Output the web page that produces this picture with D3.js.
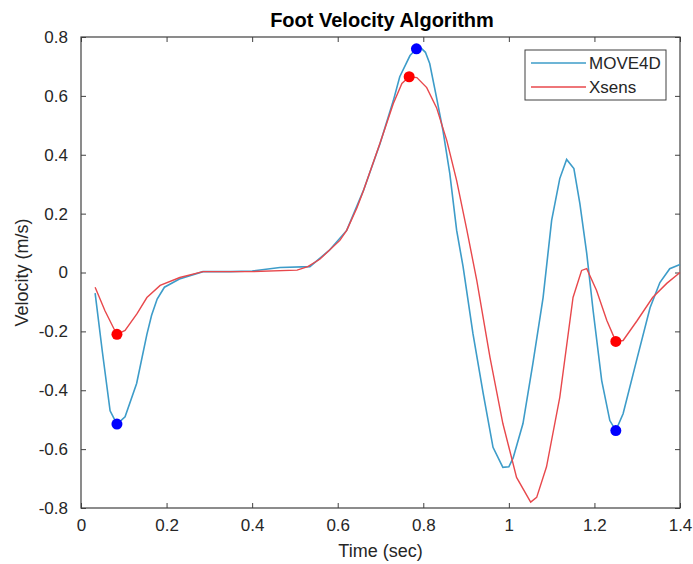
<!DOCTYPE html>
<html>
<head>
<meta charset="utf-8">
<script src="https://cdn.jsdelivr.net/npm/d3@7"></script>
<style>
  body { margin: 0; background: #fff; }
  text { font-family: "Liberation Sans", Arial, sans-serif; }
</style>
</head>
<body>
<div id="canvas"></div>
<script>
// MOVE4D series (time in sec, velocity in m/s)
var moveTime = [0.033, 0.05, 0.068, 0.084, 0.103, 0.13, 0.154, 0.165, 0.178, 0.195, 0.23, 0.285, 0.35, 0.40, 0.465, 0.535, 0.58, 0.621, 0.66, 0.699, 0.73, 0.745, 0.769, 0.784, 0.795, 0.805, 0.815, 0.831, 0.846, 0.862, 0.878, 0.893, 0.916, 0.94, 0.963, 0.986, 1.0, 1.01, 1.033, 1.056, 1.08, 1.10, 1.119, 1.135, 1.152, 1.166, 1.182, 1.197, 1.217, 1.236, 1.25, 1.267, 1.30, 1.33, 1.353, 1.376, 1.40];
var moveVel = [-0.07, -0.27, -0.47, -0.515, -0.49, -0.377, -0.21, -0.145, -0.09, -0.05, -0.022, 0.003, 0.003, 0.005, 0.017, 0.02, 0.075, 0.143, 0.278, 0.438, 0.584, 0.665, 0.737, 0.76, 0.762, 0.748, 0.71, 0.594, 0.482, 0.336, 0.143, 0.02, -0.207, -0.411, -0.594, -0.662, -0.66, -0.63, -0.513, -0.31, -0.085, 0.177, 0.319, 0.384, 0.353, 0.234, 0.065, -0.13, -0.367, -0.503, -0.537, -0.48, -0.29, -0.12, -0.034, 0.013, 0.027];

// Xsens series
var xsensTime = [0.033, 0.056, 0.079, 0.084, 0.103, 0.131, 0.154, 0.185, 0.231, 0.285, 0.35, 0.40, 0.505, 0.53, 0.558, 0.605, 0.621, 0.645, 0.66, 0.699, 0.73, 0.75, 0.767, 0.785, 0.808, 0.831, 0.855, 0.878, 0.902, 0.925, 0.956, 0.986, 1.018, 1.051, 1.065, 1.088, 1.119, 1.15, 1.17, 1.182, 1.205, 1.229, 1.25, 1.267, 1.30, 1.336, 1.369, 1.40];
var xsensVel = [-0.05, -0.13, -0.197, -0.21, -0.197, -0.14, -0.085, -0.044, -0.017, 0.003, 0.003, 0.003, 0.008, 0.02, 0.045, 0.109, 0.143, 0.22, 0.278, 0.44, 0.574, 0.642, 0.665, 0.662, 0.628, 0.56, 0.448, 0.312, 0.143, -0.027, -0.289, -0.513, -0.696, -0.78, -0.764, -0.66, -0.424, -0.085, 0.007, 0.013, -0.061, -0.163, -0.234, -0.231, -0.163, -0.085, -0.037, 0.0];

// detected events
var moveMarkTime = [0.084, 0.784, 1.25];
var moveMarkVel = [-0.515, 0.76, -0.537];
var xsensMarkTime = [0.084, 0.767, 1.25];
var xsensMarkVel = [-0.21, 0.665, -0.234];

var seriesNames = ["MOVE4D", "Xsens"];
var xTicks = [0, 0.2, 0.4, 0.6, 0.8, 1, 1.2, 1.4];
var yTicks = [-0.8, -0.6, -0.4, -0.2, 0, 0.2, 0.4, 0.6, 0.8];

const W = 693, H = 564;
const margin = {top: 37, right: 13, bottom: 56, left: 81};
const width = W - margin.left - margin.right;
const height = H - margin.top - margin.bottom;

const blue = "#3d9cc9";
const red = "#e8484c";
const axisCol = "#404040";

const svgRoot = d3.select("#canvas").append("svg")
    .attr("width", W)
    .attr("height", H);

const svg = svgRoot.append("g")
    .attr("transform", "translate(" + margin.left + "," + margin.top + ")");

const x = d3.scaleLinear().domain([0, 1.4]).range([0, width]);
const y = d3.scaleLinear().domain([-0.8, 0.8]).range([height, 0]);

// matlab style labels, plain hyphen for negatives
const fmt = function(d) { return String(+d.toFixed(1)); };

// axes, ticks pointing inward like matlab
function styleAxis(g) {
  g.select(".domain").remove();
  g.selectAll("line").attr("stroke", axisCol);
  g.selectAll("text").attr("fill", "#262626").style("font-size", "17px");
}

svg.append("g")
    .attr("transform", "translate(0," + height + ")")
    .call(d3.axisBottom(x).tickValues(xTicks).tickSizeInner(-5).tickPadding(11).tickFormat(fmt))
    .call(styleAxis);
svg.append("g")
    .call(d3.axisTop(x).tickValues(xTicks).tickSizeInner(-5).tickFormat(""))
    .call(styleAxis);
svg.append("g")
    .call(d3.axisLeft(y).tickValues(yTicks).tickSizeInner(-5).tickPadding(13).tickFormat(fmt))
    .call(styleAxis);
svg.append("g")
    .attr("transform", "translate(" + width + ",0)")
    .call(d3.axisRight(y).tickValues(yTicks).tickSizeInner(-5).tickFormat(""))
    .call(styleAxis);

svg.append("rect")
    .attr("width", width)
    .attr("height", height)
    .attr("fill", "none")
    .attr("stroke", axisCol)
    .attr("stroke-width", 1.2);

const line = d3.line()
    .x(function(d) { return x(d[0]); })
    .y(function(d) { return y(d[1]); });

svg.append("path")
    .datum(d3.zip(moveTime, moveVel))
    .attr("fill", "none")
    .attr("stroke", blue)
    .attr("stroke-width", 1.6)
    .attr("d", line);

svg.append("path")
    .datum(d3.zip(xsensTime, xsensVel))
    .attr("fill", "none")
    .attr("stroke", red)
    .attr("stroke-width", 1.4)
    .attr("d", line);

svg.append("g").selectAll("circle")
    .data(d3.zip(xsensMarkTime, xsensMarkVel))
    .enter().append("circle")
      .attr("cx", function(d) { return x(d[0]); })
      .attr("cy", function(d) { return y(d[1]); })
      .attr("r", 5.5)
      .attr("fill", "#ff0000");

svg.append("g").selectAll("circle")
    .data(d3.zip(moveMarkTime, moveMarkVel))
    .enter().append("circle")
      .attr("cx", function(d) { return x(d[0]); })
      .attr("cy", function(d) { return y(d[1]); })
      .attr("r", 5.5)
      .attr("fill", "#0000ff");

// legend
const leg = svgRoot.append("g").attr("transform", "translate(525,50)");
leg.append("rect")
    .attr("width", 141)
    .attr("height", 50)
    .attr("fill", "#fff")
    .attr("stroke", axisCol)
    .attr("stroke-width", 1);
[blue, red].forEach(function(c, i) {
  leg.append("line")
      .attr("x1", 6).attr("x2", 61)
      .attr("y1", 13 + i * 24).attr("y2", 13 + i * 24)
      .attr("stroke", c)
      .attr("stroke-width", 1.6);
  leg.append("text")
      .attr("x", 64)
      .attr("y", 13 + i * 24)
      .attr("dy", "0.35em")
      .attr("fill", "#262626")
      .style("font-size", "17px")
      .text(seriesNames[i]);
});

// titles
svgRoot.append("text")
    .attr("x", 382)
    .attr("y", 27)
    .attr("text-anchor", "middle")
    .attr("fill", "#000")
    .style("font-size", "20px")
    .style("font-weight", "bold")
    .text("Foot Velocity Algorithm");

svgRoot.append("text")
    .attr("x", margin.left + width / 2)
    .attr("y", 557)
    .attr("text-anchor", "middle")
    .attr("fill", "#262626")
    .style("font-size", "18px")
    .text("Time (sec)");

svgRoot.append("text")
    .attr("transform", "translate(28," + (margin.top + height / 2) + ") rotate(-90)")
    .attr("text-anchor", "middle")
    .attr("fill", "#262626")
    .style("font-size", "18px")
    .text("Velocity (m/s)");
</script>
</body>
</html>
